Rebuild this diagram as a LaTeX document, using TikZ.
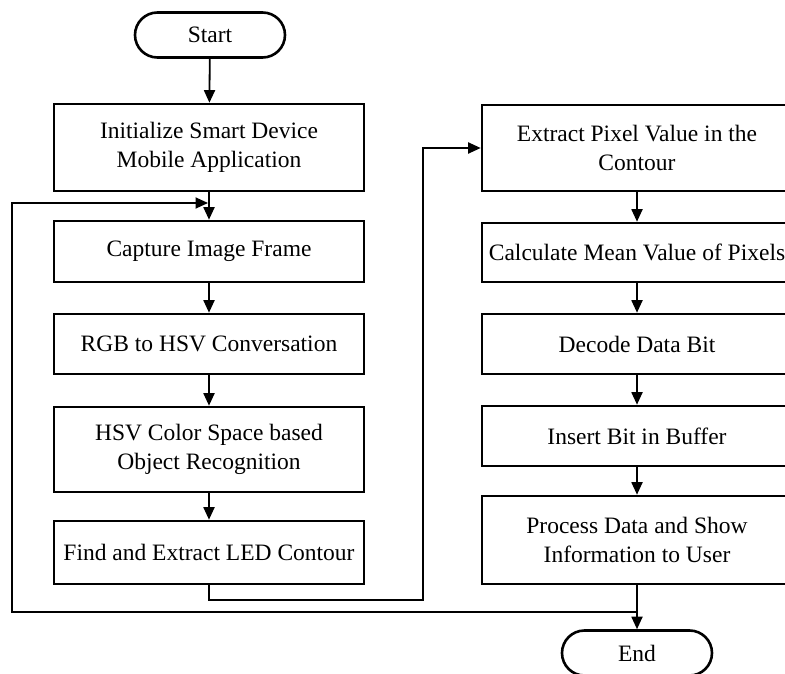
\documentclass[tikz,border=0pt]{standalone}
\usepackage{fontspec}
\setmainfont{Liberation Serif}
\usetikzlibrary{arrows.meta,shapes.misc}

\tikzset{
  stepbox/.style={draw, line width=2.6pt, inner sep=0pt, align=center,
    font=\fontsize{23.5}{28.5}\selectfont},
  leftbox/.style={stepbox, minimum width=310pt},
  rightbox/.style={stepbox, minimum width=310pt},
  terminal/.style={draw, line width=2.6pt, rounded rectangle, inner sep=0pt,
    minimum width=150pt, minimum height=45pt, font=\fontsize{23.5}{28.5}\selectfont},
  flow/.style={line width=1.8pt, -{Triangle[length=12.5pt,width=11pt]}},
  plain/.style={line width=1.8pt}
}

\begin{document}
\begin{tikzpicture}[x=1pt,y=-1pt]
  \useasboundingbox (0,0) rectangle (785,674);

  % terminals
  \node[terminal] (start) at (210,35) {Start};
  \node[terminal] (end) at (637,653) {End};

  % left column
  \node[leftbox, minimum height=87pt] (b1) at (209,147.5) {Initialize Smart Device\\Mobile Application};
  \node[leftbox, minimum height=61pt] (b2) at (209,251.5) {Capture Image Frame};
  \node[leftbox, minimum height=60pt] (b3) at (209,344) {RGB to HSV Conversation};
  \node[leftbox, minimum height=85pt] (b4) at (209,449.5) {HSV Color Space based\\Object Recognition};
  \node[leftbox, minimum height=63pt] (b5) at (209,552.5) {Find and Extract LED Contour};

  % right column
  \node[rightbox, minimum height=86pt] (b6) at (637,148) {Extract Pixel Value in the\\Contour};
  \node[rightbox, minimum height=59pt] (b7) at (637,252.5) {Calculate Mean Value of Pixels};
  \node[rightbox, minimum height=60pt] (b8) at (637,344) {Decode Data Bit};
  \node[rightbox, minimum height=60pt] (b9) at (637,436) {Insert Bit in Buffer};
  \node[rightbox, minimum height=88pt] (b10) at (637,540) {Process Data and Show\\Information to User};

  % routing points
  \coordinate (bridge) at (423,600);
  \coordinate (loopjoin) at (637,612);
  \coordinate (loopcorner) at (12,612);
  \coordinate (loopin) at (208,203);

  % straight flow
  \draw[flow] (start) -- (b1);
  \draw[flow] (b1) -- (b2);
  \draw[flow] (b2) -- (b3);
  \draw[flow] (b3) -- (b4);
  \draw[flow] (b4) -- (b5);
  \draw[flow] (b5.south) |- (bridge) |- (b6.west);
  \draw[flow] (b6) -- (b7);
  \draw[flow] (b7) -- (b8);
  \draw[flow] (b8) -- (b9);
  \draw[flow] (b9) -- (b10);
  \draw[flow] (b10) -- (end);

  % return loop back to image capture
  \draw[flow] (loopjoin) -- (loopcorner) |- (loopin);
\end{tikzpicture}
\end{document}
